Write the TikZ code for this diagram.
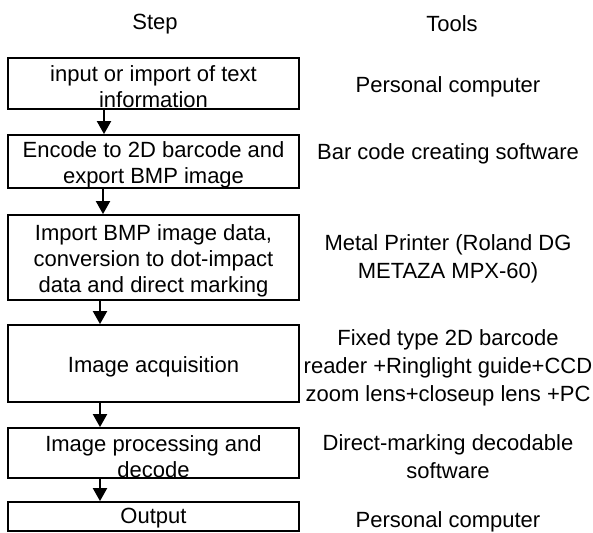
\documentclass[tikz,border=0pt]{standalone}
\usepackage{fontspec}
\setmainfont{Liberation Sans}
\usetikzlibrary{arrows.meta}
\tikzset{
  stepbox/.style={draw, line width=1.8pt, rectangle, inner sep=0pt, minimum width=291pt},
  boxtext/.style={inner sep=0pt, align=center, yshift=-3.5pt, font=\fontsize{22}{26}\selectfont},
  toollabel/.style={inner sep=0pt, align=center, font=\fontsize{22}{28}\selectfont},
  headlabel/.style={inner sep=0pt, font=\fontsize{22}{26}\selectfont},
  flowarrow/.style={line width=2pt, -{Triangle[length=13pt,width=14pt]}}
}
\begin{document}
\begin{tikzpicture}[x=1pt,y=-1pt]
\useasboundingbox (0,0) rectangle (593,532);
\node[headlabel] (hstep) at (155,24) {Step};
\node[headlabel] (htools) at (452,24) {Tools};
\node[stepbox, minimum height=51pt, label={[boxtext]center:{input or import of text\\information}}] (b1) at (153.5,83.5) {};
\node[stepbox, minimum height=53pt, label={[boxtext]center:{Encode to 2D barcode and\\export BMP image}}] (b2) at (153.5,161.5) {};
\node[stepbox, minimum height=85pt, label={[boxtext]center:{Import BMP image data,\\conversion to dot-impact\\data and direct marking}}] (b3) at (153.5,257.5) {};
\node[stepbox, minimum height=77pt, label={[boxtext]center:{Image acquisition}}] (b4) at (153.5,363.5) {};
\node[stepbox, minimum height=50pt, label={[boxtext]center:{Image processing and\\decode}}] (b5) at (153.5,453) {};
\node[stepbox, minimum height=29pt, label={[boxtext,yshift=2pt]center:{Output}}] (b6) at (153.5,516.5) {};
\node[toollabel] (r1) at (448,87) {Personal computer};
\node[toollabel] (r2) at (448,154) {Bar code creating software};
\node[toollabel] (r3) at (448,259) {Metal Printer (Roland DG\\METAZA MPX-60)};
\node[toollabel] (r4) at (448,368) {Fixed type 2D barcode\\reader +Ringlight guide+CCD\\zoom lens+closeup lens +PC};
\node[toollabel] (r5) at (448,457) {Direct-marking decodable\\software};
\node[toollabel] (r6) at (448,522) {Personal computer};
\draw[flowarrow] ([xshift=-49.5pt]b1.south) -- ([xshift=-49.5pt]b2.north);
\draw[flowarrow] ([xshift=-50.5pt]b2.south) -- ([xshift=-50.5pt]b3.north);
\draw[flowarrow] ([xshift=-53.5pt]b3.south) -- ([xshift=-53.5pt]b4.north);
\draw[flowarrow] ([xshift=-53.5pt]b4.south) -- ([xshift=-53.5pt]b5.north);
\draw[flowarrow] ([xshift=-53.5pt]b5.south) -- ([xshift=-53.5pt]b6.north);
\end{tikzpicture}
\end{document}
